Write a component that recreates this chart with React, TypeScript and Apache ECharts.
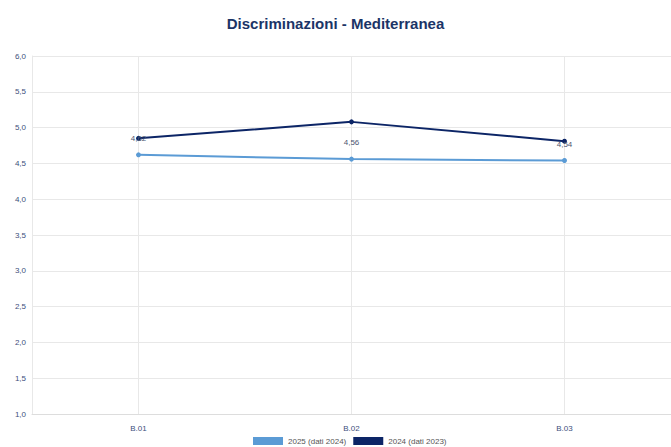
import React, { useEffect, useRef } from "react";
import * as echarts from "echarts";

const categories = ["B.01", "B.02", "B.03"];
const series2025 = [4.62, 4.56, 4.54];
const series2024 = [4.85, 5.08, 4.81];
const seriesNames = ["2025 (dati 2024)", "2024 (dati 2023)"];
const titleText = "Discriminazioni - Mediterranea";

const fmt = (v: number) => v.toFixed(1).replace(".", ",");

export default function App() {
  const ref = useRef<HTMLDivElement>(null);
  useEffect(() => {
    if (!ref.current) return;
    const chart = echarts.init(ref.current, undefined, { renderer: "svg" });
    chart.setOption({
      animation: false,
      backgroundColor: "#ffffff",
      title: {
        text: titleText,
        left: "center",
        top: 11,
        textStyle: {
          fontFamily: "Liberation Sans, Arial, sans-serif",
          fontSize: 15,
          fontWeight: "bold",
          color: "#1b3467",
        },
      },
      legend: {
        bottom: -3,
        left: 248,
        itemWidth: 30,
        itemHeight: 8,
        itemGap: 7,
        icon: "rect",
        textStyle: { fontSize: 8, color: "#555", fontFamily: "Liberation Sans, Arial, sans-serif" },
        data: seriesNames,
      },
      grid: { left: 32, top: 56, right: -3, bottom: 33, containLabel: false },
      xAxis: {
        type: "category",
        data: categories,
        boundaryGap: true,
        axisLine: { show: true, lineStyle: { color: "#dddddd" } },
        axisTick: { show: false },
        axisLabel: {
          fontSize: 8,
          color: "#3d4f7c",
          margin: 10,
          fontFamily: "Liberation Sans, Arial, sans-serif",
        },
        splitLine: { show: true, alignWithLabel: true, lineStyle: { color: "#e8e8e8" } } as any,
      },
      yAxis: {
        type: "value",
        min: 1,
        max: 6,
        interval: 0.5,
        axisLine: { show: true, lineStyle: { color: "#e8e8e8" } },
        axisTick: { show: false },
        axisLabel: {
          fontSize: 8,
          color: "#3d4f7c",
          margin: 6,
          formatter: (v: number) => fmt(v),
          fontFamily: "Liberation Sans, Arial, sans-serif",
        },
        splitLine: { show: true, lineStyle: { color: "#e8e8e8" } },
      },
      series: [
        {
          name: seriesNames[0],
          type: "line",
          data: series2025,
          color: "#5b9bd5",
          symbol: "circle",
          symbolSize: 5,
          lineStyle: { width: 2, color: "#5b9bd5" },
          label: {
            show: true,
            position: "top",
            distance: 10,
            fontSize: 8,
            color: "#4a5570",
            formatter: (p: any) => p.value.toFixed(2).replace(".", ","),
            fontFamily: "Liberation Sans, Arial, sans-serif",
          },
          z: 3,
        },
        {
          name: seriesNames[1],
          type: "line",
          data: series2024,
          color: "#0c2566",
          symbol: "circle",
          symbolSize: 5,
          lineStyle: { width: 2, color: "#0c2566" },
          z: 2,
        },
      ],
    });
    return () => chart.dispose();
  }, []);
  return <div ref={ref} style={{ width: 671, height: 447, position: "fixed", left: 0, top: 0 }} />;
}
